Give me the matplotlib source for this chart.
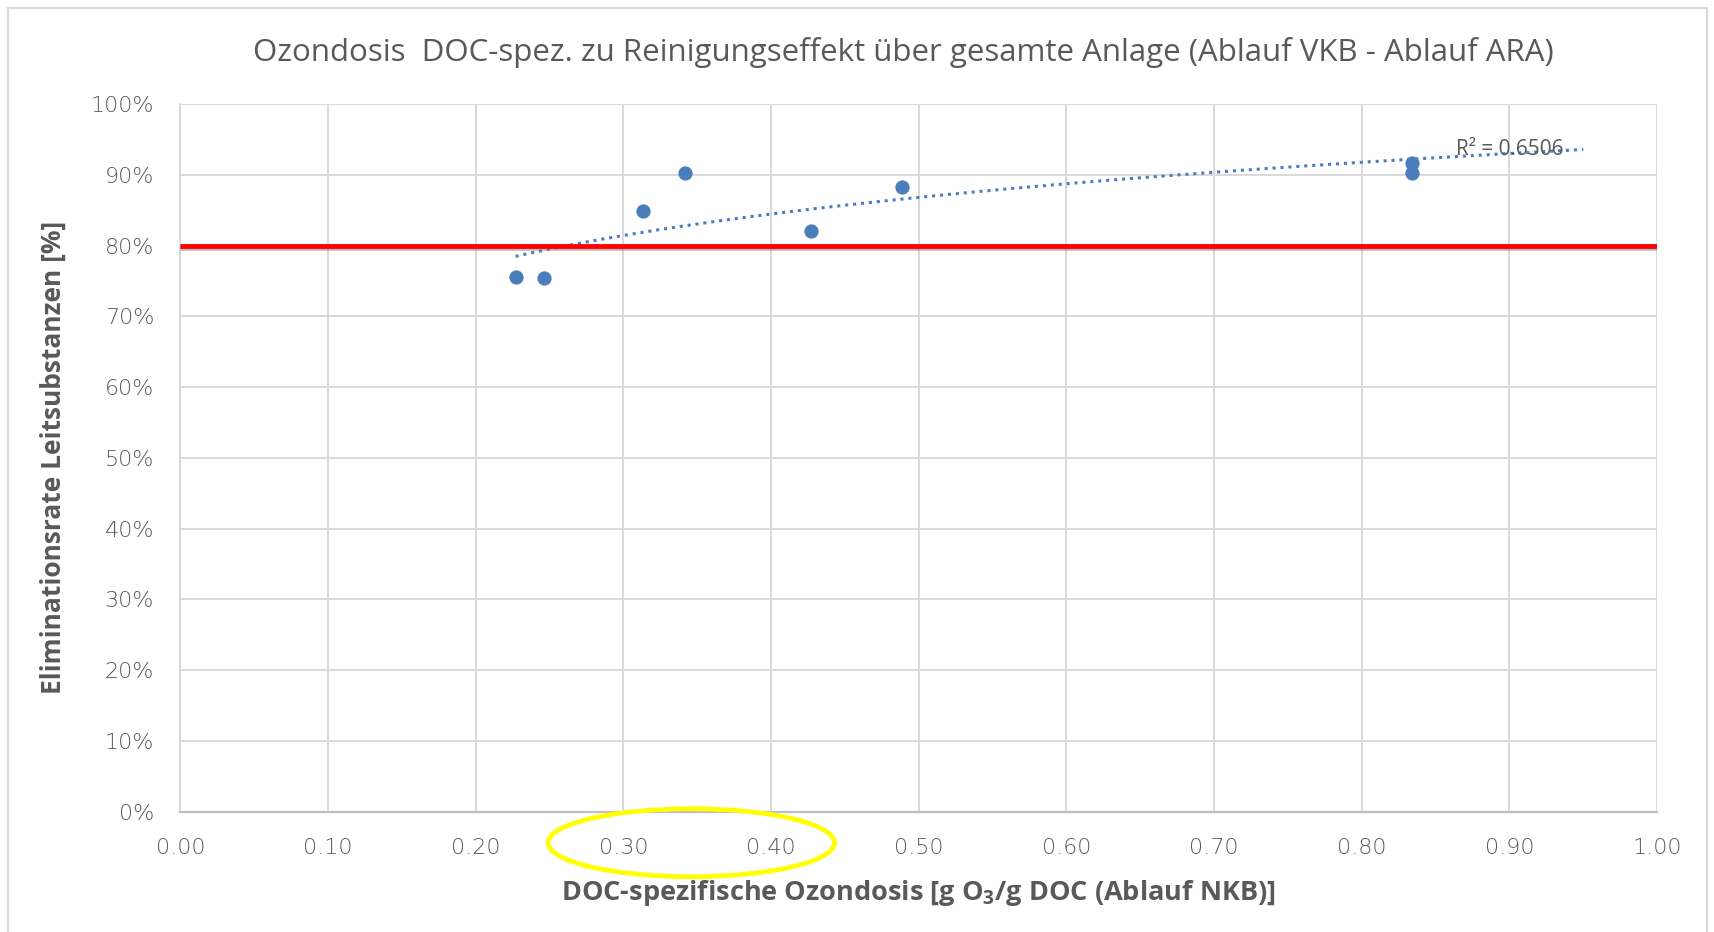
import numpy as np
import matplotlib.pyplot as plt
import matplotlib.patheffects as pe
from matplotlib.patches import Ellipse, Rectangle

# Messwerte
dosis = [0.227, 0.246, 0.313, 0.342, 0.427, 0.489, 0.834, 0.834]
elimination = [75.6, 75.4, 84.9, 90.3, 82.1, 88.3, 91.7, 90.3]
ziel_x = [0.0, 1.0]
ziel_y = [80, 80]
trend_bereich = [0.227, 0.95]
r2_text = 'R² = 0.6506'

grau = '#595959'
blau = '#4A7EBB'
plt.rcParams['font.family'] = ['Open Sans', 'DejaVu Sans']

fig = plt.figure(figsize=(17.15, 9.32), dpi=100)
ax = fig.add_axes([0.1052, 0.1292, 0.861, 0.7592])

# logarithmische Trendlinie aus den Daten
a, b = np.polyfit(np.log(dosis), elimination, 1)
xt = np.linspace(trend_bereich[0], trend_bereich[1], 200)
ax.plot(xt, a * np.log(xt) + b, color=blau, lw=2.2, ls=(0, (1, 1.6)), zorder=3)

ax.plot(ziel_x, ziel_y, color='#FF0000', lw=3.5, zorder=4, solid_capstyle='butt',
        path_effects=[pe.SimpleLineShadow(offset=(0, -2), shadow_color='#808080', alpha=0.5),
                      pe.Normal()])

ax.scatter(dosis, elimination, s=105, color=blau, zorder=5, linewidths=0)

ax.text(0.864, 93.6, r2_text, fontsize=15, color=grau, va='center', zorder=6)

ax.set_xlim(0, 1)
ax.set_ylim(0, 100)
ax.set_xticks(np.arange(0, 1.01, 0.1))
ax.set_xticklabels([f'{v:.2f}' for v in np.arange(0, 1.01, 0.1)])
ax.set_yticks(range(0, 101, 10))
ax.set_yticklabels([f'{v}%' for v in range(0, 101, 10)])
ax.tick_params(length=0, labelsize=16, colors=grau, pad=19)
for lab in ax.get_xticklabels() + ax.get_yticklabels():
    lab.set_family(['DejaVu Sans'])
    lab.set_fontweight('light')
ax.grid(True, color='#D9D9D9', lw=1.4)
ax.set_axisbelow(True)
for s in ['top', 'right']:
    ax.spines[s].set_visible(False)
ax.spines['left'].set_color('#D9D9D9')
ax.spines['left'].set_linewidth(1.4)
ax.spines['bottom'].set_color('#BFBFBF')
ax.spines['bottom'].set_linewidth(1.6)

ax.set_xlabel('DOC-spezifische Ozondosis [g O$_\\mathregular{3}$/g DOC (Ablauf NKB)]',
              fontsize=19.5, fontweight='bold', color=grau, va='top')
ax.xaxis.set_label_coords(0.5, -0.094)
ax.set_ylabel('Eliminationsrate Leitsubstanzen [%]', fontsize=19, fontweight='bold',
              color=grau)
ax.yaxis.set_label_coords(-0.077, 0.5)
fig.text(0.527, 0.944, 'Ozondosis  DOC-spez. zu Reinigungseffekt über gesamte Anlage (Ablauf VKB - Ablauf ARA)',
         ha='center', va='center', fontsize=22.5, color=grau)

# gelbe Markierung
ax.add_patch(Ellipse((0.346, -4.4), 0.194, 9.6, fill=False, ec='#FFFF00', lw=3.4,
                     clip_on=False, zorder=6))

# Rahmen
fig.add_artist(Rectangle((8 / 1715, -0.05), 1 - 16 / 1715, 1.05 - 8 / 932,
                         transform=fig.transFigure, fill=False, ec='#D9D9D9', lw=1.5))

fig.savefig('out.png', dpi=100)
